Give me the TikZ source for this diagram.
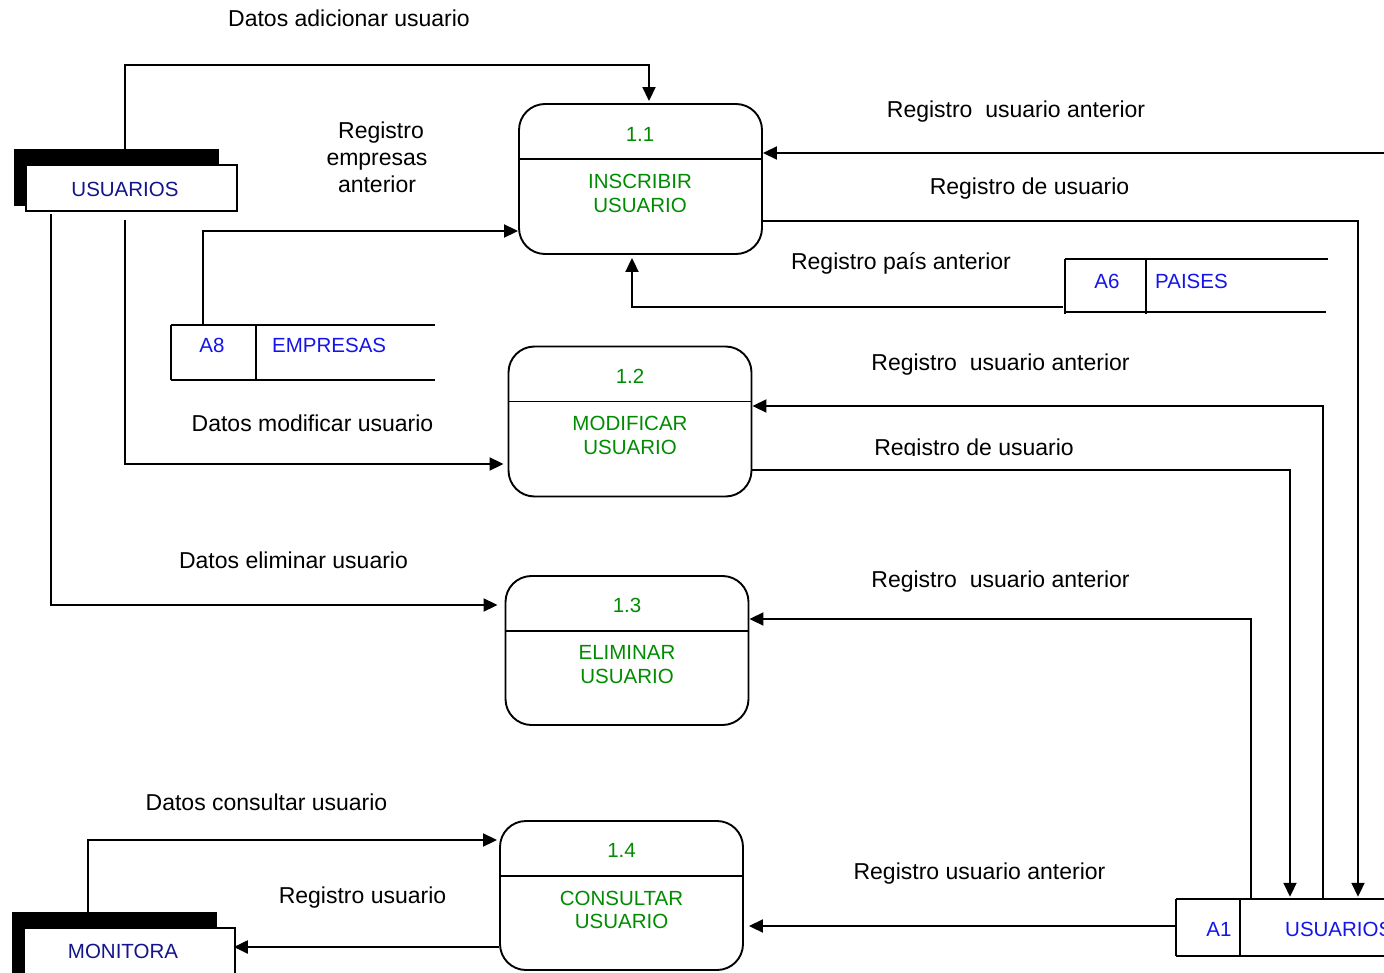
\documentclass[tikz,border=0pt]{standalone}
\usepackage{fontspec}
\setmainfont{Liberation Sans}
\usetikzlibrary{arrows.meta,calc}
\definecolor{procgreen}{RGB}{0,140,0}
\definecolor{entblue}{RGB}{20,20,140}
\definecolor{storeblue}{RGB}{20,20,235}
\begin{document}
\begin{tikzpicture}[x=1pt,y=-1pt,
  proc/.style={draw, line width=1.9pt, rounded corners=26pt, minimum width=243pt, minimum height=150pt, inner sep=0pt},
  ptxt/.style={text=procgreen, font=\fontsize{20.5}{24}\selectfont, inner sep=0pt, text height=14.7pt, text depth=0pt},
  stxt/.style={text=storeblue, font=\fontsize{20.5}{24}\selectfont, inner sep=0pt, text height=14.7pt, text depth=0pt},
  etxt/.style={text=entblue, font=\fontsize{20.5}{24}\selectfont, inner sep=0pt, text height=14.7pt, text depth=0pt},
  lbl/.style={font=\fontsize{23}{27}\selectfont, inner sep=0pt, text height=16.5pt, text depth=0pt},
  flow/.style={line width=1.9pt, -{Triangle[length=14pt,width=13pt]}},
  plain/.style={line width=1.9pt},
  shadowbox/.style={fill=black, draw=none, inner sep=0pt},
  frontbox/.style={fill=white, draw=black, line width=1.6pt, inner sep=0pt},
  storebox/.style={draw=none, inner sep=0pt}]
\clip (0,0) rectangle (1384,973);
\fill[white] (0,0) rectangle (1384,973);

% ---------- processes ----------
\node[proc] (p11) at (640.5,179) {};
\node[proc] (p12) at (630,421.5) {};
\node[proc, minimum height=149pt] (p13) at (627,650.5) {};
\node[proc, minimum height=149pt] (p14) at (621.5,895.5) {};
\foreach \p in {p11,p12,p13,p14}{
  \draw[plain] ([yshift=-56pt]\p.north west) -- ([yshift=-56pt]\p.north east);
}
\node[ptxt] (t11a) at (640,134) {1.1};
\node[ptxt] (t11b) at (640,181) {INSCRIBIR};
\node[ptxt] (t11c) at (640,205) {USUARIO};
\node[ptxt] (t12a) at (630,376) {1.2};
\node[ptxt] (t12b) at (630,423) {MODIFICAR};
\node[ptxt] (t12c) at (630,447) {USUARIO};
\node[ptxt] (t13a) at (627,605) {1.3};
\node[ptxt] (t13b) at (627,652) {ELIMINAR};
\node[ptxt] (t13c) at (627,676) {USUARIO};
\node[ptxt] (t14a) at (621.5,850) {1.4};
\node[ptxt] (t14b) at (621.5,898) {CONSULTAR};
\node[ptxt] (t14c) at (621.5,921) {USUARIO};

% ---------- external entities ----------
\node[shadowbox, minimum width=205pt, minimum height=57pt] (es) at (116.5,177.5) {};
\node[frontbox, minimum width=211pt, minimum height=46pt] (eu) at (131.5,188) {};
\node[etxt] (eut) at (125,189) {USUARIOS};
\node[shadowbox, minimum width=205pt, minimum height=70pt] (ms) at (114.5,947) {};
\node[frontbox, minimum width=211pt, minimum height=60pt] (em) at (129.5,958) {};
\node[etxt] (emt) at (123,951) {MONITORA};

% ---------- data stores ----------
\node[storebox, minimum width=264pt, minimum height=55pt] (a8) at (303,352.5) {};
\draw[plain] (a8.north west) -- (a8.north east);
\draw[plain] (a8.south west) -- (a8.south east);
\draw[plain] (a8.north west) -- (a8.south west);
\draw[plain] (256,0 |- a8.north) -- (256,0 |- a8.south);
\node[stxt] (a8id) at (212,345) {A8};
\node[stxt, anchor=west] (a8nm) at (272,345) {EMPRESAS};

\node[storebox, minimum width=263pt, minimum height=53pt] (a6) at (1196.5,285.5) {};
\draw[plain] (a6.north west) -- (a6.north east);
\draw[plain] (a6.south west) -- ([xshift=-2pt]a6.south east);
\draw[plain] (a6.north west) -- ([yshift=-2pt]a6.south west);
\draw[plain] (1146,0 |- a6.north) -- ([yshift=-2pt]1146,0 |- a6.south);
\node[stxt] (a6id) at (1107,281) {A6};
\node[stxt, anchor=west] (a6nm) at (1155,281) {PAISES};

\node[storebox, minimum width=220pt, minimum height=57pt] (a1) at (1286,927.5) {};
\draw[plain] (a1.north west) -- (a1.north east);
\draw[plain] (a1.south west) -- (a1.south east);
\draw[plain] (a1.north west) -- (a1.south west);
\draw[plain] (1240,0 |- a1.north) -- (1240,0 |- a1.south);
\node[stxt] (a1id) at (1219,929) {A1};
\node[stxt, anchor=west] (a1nm) at (1285,929) {USUARIOS};

% ---------- connectors ----------
\coordinate (rin) at (1390,153);
\draw[flow] (125,0 |- es.north) -- (125,65) -| ([yshift=2pt]649,0 |- p11.north);
\draw[flow] (203,0 |- a8.north) -- (203,231) -- (p11.west |- 0,231);
\draw[flow] (rin) -- (p11.east |- 0,153);
\draw[flow] (p11.east |- 0,221) -- (1358,221) -- ([yshift=2pt]1358,0 |- a1.north);
\draw[flow] ([xshift=-2pt]a6.west |- 0,307) -- (632,307) -- ([yshift=-3pt]632,0 |- p11.south);
\draw[flow, shorten >=4pt] ([yshift=-8pt]125,0 |- eu.south) -- (125,464) -- (p12.west |- 0,464);
\draw[flow] (1323,0 |- a1.north) -- (1323,406) -- (p12.east |- 0,406);
\draw[flow] (p12.east |- 0,470) -- (1290,470) -- ([yshift=2pt]1290,0 |- a1.north);
\draw[flow, shorten >=7pt] ([yshift=-2pt]51,0 |- eu.south) -- (51,605) -- (p13.west |- 0,605);
\draw[flow] (1251,0 |- a1.north) -- (1251,619) -- (p13.east |- 0,619);
\draw[flow, shorten >=2pt] (88,0 |- ms.north) -- (88,840) -- (p14.west |- 0,840);
\draw[flow, shorten >=-2pt] (p14.west |- 0,947) -- (em.east |- 0,947);
\draw[flow, shorten >=5pt] (a1.west |- 0,926) -- (p14.east |- 0,926);

% ---------- labels ----------
\node[lbl] (l1) at (349,18) {Datos adicionar usuario};
\node[lbl] (l2a) at (381,130) {Registro};
\node[lbl] (l2b) at (377,157) {empresas};
\node[lbl] (l2c) at (377,184) {anterior};
\node[lbl] (l3) at (1016,109) {Registro\ \ usuario anterior};
\node[lbl] (l4) at (1029.5,186) {Registro de usuario};
\node[lbl] (l5) at (901,261) {Registro país anterior};
\node[lbl] (l7) at (1000.5,362) {Registro\ \ usuario anterior};
\begin{scope}
\clip (850,425) rectangle (1100,455);
\node[lbl] (l8) at (974,447) {Registro de usuario};
\end{scope}
\node[lbl] (l6) at (312.5,423) {Datos modificar usuario};
\node[lbl] (l9) at (293.5,560) {Datos eliminar usuario};
\node[lbl] (l10) at (1000.5,579) {Registro\ \ usuario anterior};
\node[lbl] (l11) at (266.5,802) {Datos consultar usuario};
\node[lbl] (l12) at (362.5,895) {Registro usuario};
\node[lbl] (l13) at (979.5,871) {Registro usuario anterior};
\end{tikzpicture}
\end{document}
